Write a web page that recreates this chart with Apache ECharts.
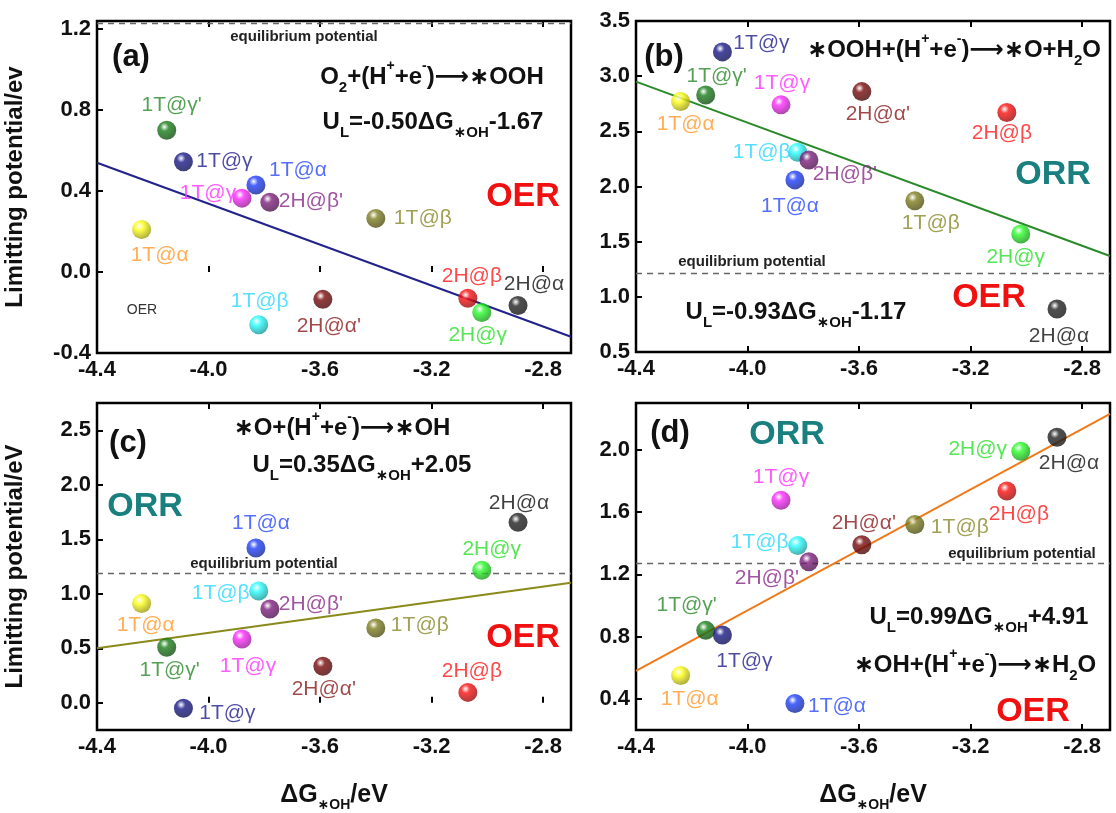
<!DOCTYPE html>
<html><head><meta charset="utf-8">
<script src="https://cdn.jsdelivr.net/npm/echarts@6/dist/echarts.min.js"></script>
<style>html,body{margin:0;padding:0;background:#fff}#c{width:1116px;height:813px}</style>
</head><body><div id="c"></div>
<script>
// ---------------- DATA ----------------
const labels = ['1T@α', "1T@γ'", '1T@γ', '1T@γ', '1T@α', '1T@β', "2H@β'", "2H@α'", '1T@β', '2H@β', '2H@γ', '2H@α'];
// ΔG*OH (eV) for each site
const dGOH = [-4.24, -4.15, -4.09, -3.88, -3.83, -3.82, -3.78, -3.59, -3.40, -3.07, -3.02, -2.89];
// Limiting potentials (eV) per panel
const ulA = [0.21, 0.70, 0.545, 0.365, 0.43, -0.26, 0.345, -0.135, 0.265, -0.13, -0.20, -0.165];
const ulB = [2.77, 2.83, 3.22, 2.74, 2.06, 2.31, 2.24, 2.86, 1.87, 2.67, 1.57, 0.89];
const ulC = [0.91, 0.51, -0.05, 0.585, 1.42, 1.025, 0.86, 0.335, 0.685, 0.095, 1.215, 1.655];
const ulD = [0.55, 0.84, 0.81, 1.675, 0.37, 1.385, 1.28, 1.39, 1.52, 1.735, 1.99, 2.08];
// fitted lines (endpoints)
const fitA = [[-4.4, 0.54], [-2.7, -0.32]];
const fitB = [[-4.4, 2.95], [-2.7, 1.37]];
const fitC = [[-4.4, 0.50], [-2.7, 1.10]];
const fitD = [[-4.4, 0.58], [-2.7, 2.23]];
// equilibrium potential lines as drawn
const eqLines = [1.23, 1.21, 1.19, 1.27];
// tick labels
const xTicks = [-4.4, -4.0, -3.6, -3.2, -2.8];
const yTicksA = [-0.4, 0.0, 0.4, 0.8, 1.2];
const yTicksB = [0.5, 1.0, 1.5, 2.0, 2.5, 3.0, 3.5];
const yTicksC = [0.0, 0.5, 1.0, 1.5, 2.0, 2.5];
const yTicksD = [0.4, 0.8, 1.2, 1.6, 2.0];

// ---------------- STYLE ----------------
const FONT = '"Liberation Sans", Arial, Helvetica, "DejaVu Sans", sans-serif';
const pointColors = ['#ffff1a', '#1a801a', '#1a1a8a', '#ff2aff', '#1f3fff', '#2affff', '#7f1f7f', '#7a0a0a', '#808020', '#ff1010', '#2aff2a', '#222222'];
const labelColors = ['#ff9a2a', '#2a8a2a', '#1f1f8f', '#ff33ff', '#2a4aff', '#2ad8ff', '#8a2a8a', '#8a1a1a', '#8a8a2a', '#ff1a1a', '#2ae02a', '#111111'];
const offA = [[18,26],[5,-25],[41,0],[-34,-5],[42,-15],[1,-23],[41,-1],[6,27],[47,0],[4,-22],[-4,23],[16,-21]];
const offB = [[5,23],[11,-19],[39,-9],[1,-22],[-5,26],[-36,0],[36,14],[16,23],[16,22],[-5,21],[-5,23],[2,27]];
const offC = [[4,22],[3,23],[44,5],[6,27],[5,-25],[-38,2],[41,-5],[1,23],[44,-3],[4,-21],[10,-21],[1,-19]];
const offD = [[9,24],[-19,-25],[22,26],[0,-23],[42,3],[-38,-3],[-42,16],[2,-21],[45,3],[12,23],[-43,-2],[12,26]];

const panels = [
  {grid:{left:97, top:21, width:474, height:332}, ymin:-0.4, ymax:1.24, yTicks:yTicksA, vals:ulA, fit:fitA, fitColor:'#22228a', off:offA, yName:'Limitting potential/ev', xName:false},
  {grid:{left:636, top:21, width:474, height:331}, ymin:0.5, ymax:3.5, yTicks:yTicksB, vals:ulB, fit:fitB, fitColor:'#2a8a2a', off:offB, yName:'', xName:false},
  {grid:{left:97, top:403, width:474, height:332}, ymin:-0.25, ymax:2.75, yTicks:yTicksC, vals:ulC, fit:fitC, fitColor:'#8a8a1a', off:offC, yName:'Limitting potential/eV', xName:true},
  {grid:{left:636, top:403, width:474, height:332}, ymin:0.2, ymax:2.3, yTicks:yTicksD, vals:ulD, fit:fitD, fitColor:'#f07a1a', off:offD, yName:'', xName:true}
];

function shade(hex, f){
  const n = parseInt(hex.slice(1), 16);
  const r = Math.round(((n>>16)&255)*f), g = Math.round(((n>>8)&255)*f), b = Math.round((n&255)*f);
  return 'rgb(' + r + ',' + g + ',' + b + ')';
}
function sphere(c){
  return {type:'radial', x:0.38, y:0.32, r:0.75, colorStops:[
    {offset:0, color:'#ffffff'}, {offset:0.3, color:c}, {offset:1, color:shade(c, 0.55)}]};
}

const richBase = {
  b:{fontSize:24, fontWeight:'bold', fontFamily:FONT, color:'#111', lineHeight:36, verticalAlign:'middle'},
  s:{fontSize:15, fontWeight:'bold', fontFamily:FONT, color:'#111', lineHeight:17, verticalAlign:'bottom'},
  p:{fontSize:14, fontWeight:'bold', fontFamily:FONT, color:'#111', lineHeight:17, verticalAlign:'top'}
};

const grids = [], xAxes = [], yAxes = [], series = [];
panels.forEach((p, i) => {
  grids.push(Object.assign({show:true, borderColor:'#000', borderWidth:2.5, backgroundColor:'transparent'}, p.grid));
  const xBase = {type:'value', gridIndex:i, min:-4.4, max:-2.7, splitLine:{show:false}, axisLine:{show:false},
    axisTick:{inside:true, length:6, lineStyle:{color:'#000', width:2}, customValues:xTicks}};
  xAxes.push(Object.assign({}, xBase, {position:'bottom',
    axisLabel:{customValues:xTicks, fontSize:22, fontWeight:'bold', fontFamily:FONT, color:'#111', margin:6, formatter:v=>v.toFixed(1)},
    name: p.xName ? '{m|ΔG}{s|∗OH}{m|/eV}' : '', nameLocation:'middle', nameGap:48,
    nameTextStyle:{rich:{m:{fontSize:25, fontWeight:'bold', fontFamily:FONT, color:'#111', lineHeight:34, verticalAlign:'middle'},
      s:{fontSize:14, fontWeight:'bold', fontFamily:FONT, color:'#111', lineHeight:16, verticalAlign:'bottom'}}}}));
  xAxes.push(Object.assign({}, xBase, {position:'top', axisLabel:{show:false}}));
  yAxes.push({type:'value', gridIndex:i, min:p.ymin, max:p.ymax, splitLine:{show:false}, axisLine:{show:false},
    axisTick:{inside:true, length:6, lineStyle:{color:'#000', width:2}, customValues:p.yTicks},
    axisLabel:{customValues:p.yTicks, fontSize:22, fontWeight:'bold', fontFamily:FONT, color:'#111', margin:6, formatter:v=>v.toFixed(1)},
    name:p.yName, nameLocation:'middle', nameGap:70,
    nameTextStyle:{fontSize:24, fontWeight:'bold', fontFamily:FONT, color:'#111'}});
  // fitted line + equilibrium line
  series.push({type:'line', xAxisIndex:2*i, yAxisIndex:i, data:p.fit, symbol:'none', silent:true, z:1,
    lineStyle:{color:p.fitColor, width:2},
    markLine:{silent:true, symbol:['none','none'], label:{show:false}, z:1,
      lineStyle:{type:[6,5], color:'#666', width:1.3}, data:[{yAxis:eqLines[i]}]}});
  // points
  series.push({type:'scatter', xAxisIndex:2*i, yAxisIndex:i, symbolSize:19, z:3,
    data: dGOH.map((x, k) => ({value:[x, p.vals[k]], itemStyle:{color:sphere(pointColors[k])},
      label:{show:true, formatter:labels[k], position:'inside', offset:p.off[k], color:labelColors[k],
        fontSize:21, fontFamily:FONT, align:'center', verticalAlign:'middle'}}))});
});

// annotations
function txt(x, y, text, style){
  return {type:'text', x:x, y:y, z:10, style:Object.assign({text:text, align:'center', verticalAlign:'middle',
    textAlign:'center', textVerticalAlign:'middle', fontFamily:FONT}, style)};
}
const panelStyle = {fontSize:31, fontWeight:'bold', fill:'#111'};
const eqStyle = {fontSize:15, fontWeight:'bold', fill:'#222'};
const formulaStyle = {fontSize:24, fontWeight:'bold', fill:'#111', rich:richBase};
const oerStyle = {fontSize:34, fontWeight:'bold', fill:'#f01010'};
const orrStyle = {fontSize:34, fontWeight:'bold', fill:'#1a7f7f'};
const AR = '⟶';
const graphics = [
  txt(131, 57, '(a)', panelStyle),
  txt(304, 37, 'equilibrium potential', eqStyle),
  txt(432, 77, '{b|O}{s|2}{b|+(H}{p|+}{b|+e}{p|-}{b|)' + AR + '∗OOH}', formulaStyle),
  txt(433, 122, '{b|U}{s|L}{b|=-0.50ΔG}{s|∗OH}{b|-1.67}', formulaStyle),
  txt(523, 197, 'OER', oerStyle),
  txt(142, 310, 'OER', {fontSize:14, fill:'#333'}),
  txt(664, 57, '(b)', panelStyle),
  txt(954, 50, '{b|∗OOH+(H}{p|+}{b|+e}{p|-}{b|)' + AR + '∗O+H}{s|2}{b|O}', formulaStyle),
  txt(1053, 175, 'ORR', orrStyle),
  txt(752, 262, 'equilibrium potential', eqStyle),
  txt(989, 298, 'OER', oerStyle),
  txt(796, 312, '{b|U}{s|L}{b|=-0.93ΔG}{s|∗OH}{b|-1.17}', formulaStyle),
  txt(128, 443, '(c)', panelStyle),
  txt(342, 428, '{b|∗O+(H}{p|+}{b|+e}{p|-}{b|)' + AR + '∗OH}', formulaStyle),
  txt(362, 465, '{b|U}{s|L}{b|=0.35ΔG}{s|∗OH}{b|+2.05}', formulaStyle),
  txt(145, 507, 'ORR', orrStyle),
  txt(264, 564, 'equilibrium potential', eqStyle),
  txt(523, 638, 'OER', oerStyle),
  txt(670, 433, '(d)', panelStyle),
  txt(787, 435, 'ORR', orrStyle),
  txt(1022, 554, 'equilibrium potential', eqStyle),
  txt(979, 617, '{b|U}{s|L}{b|=0.99ΔG}{s|∗OH}{b|+4.91}', formulaStyle),
  txt(975, 665, '{b|∗OH+(H}{p|+}{b|+e}{p|-}{b|)' + AR + '∗H}{s|2}{b|O}', formulaStyle),
  txt(1033, 712, 'OER', oerStyle)
];

const chart = echarts.init(document.getElementById('c'), null, {renderer:'canvas'});
chart.setOption({
  animation:false,
  backgroundColor:'#fff',
  grid:grids, xAxis:xAxes, yAxis:yAxes, series:series, graphic:graphics
});
</script>
</body></html>
